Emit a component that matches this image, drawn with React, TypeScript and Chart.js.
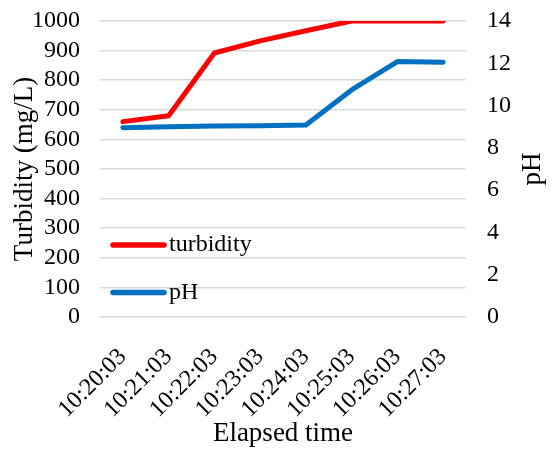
import React, { useEffect, useRef } from "react";
import { Chart, registerables } from "chart.js";

Chart.register(...registerables);

const categories = [
  "10:20:03",
  "10:21:03",
  "10:22:03",
  "10:23:03",
  "10:24:03",
  "10:25:03",
  "10:26:03",
  "10:27:03",
];
const turbidity = [660, 680, 892, 933, 967, 1000, 1000, 1000];
const ph = [8.95, 9.0, 9.03, 9.05, 9.08, 10.74, 12.08, 12.05];
const seriesLabels = ["turbidity", "pH"];
const seriesColors = ["#FF0000", "#0070C0"];
const leftTitle = "Turbidity (mg/L)";
const rightTitle = "pH";
const bottomTitle = "Elapsed time";

const FONT = "'Liberation Serif', 'Times New Roman', Times, serif";

const decorPlugin = {
  id: "decor",
  afterDraw(chart: any) {
    const ctx = chart.ctx as CanvasRenderingContext2D;
    const area = chart.chartArea;
    ctx.save();
    // legend inside plot area
    chart.data.datasets.forEach((ds: any, i: number) => {
      const y = area.bottom - 72 + i * 47.5;
      ctx.beginPath();
      ctx.strokeStyle = ds.borderColor;
      ctx.lineWidth = 5.5;
      ctx.lineCap = "round";
      ctx.moveTo(area.left + 13, y);
      ctx.lineTo(area.left + 64, y);
      ctx.stroke();
      ctx.fillStyle = "#000";
      ctx.font = `24px ${FONT}`;
      ctx.textAlign = "left";
      ctx.textBaseline = "middle";
      ctx.fillText(ds.label, area.left + 69, y);
    });
    // right axis title, rotated bottom-to-top
    const s = chart.scales.y1;
    ctx.translate(s.right - 27, (area.top + area.bottom) / 2);
    ctx.rotate(-Math.PI / 2);
    ctx.fillStyle = "#000";
    ctx.font = `27px ${FONT}`;
    ctx.textAlign = "center";
    ctx.textBaseline = "middle";
    ctx.fillText(rightTitle, 0, 0);
    ctx.restore();
  },
};

export default function App() {
  const canvasRef = useRef<HTMLCanvasElement | null>(null);

  useEffect(() => {
    if (!canvasRef.current) return;
    const tickFont = { family: FONT, size: 24 };
    const titleFont = { family: FONT, size: 27 };
    const chart = new Chart(canvasRef.current, {
      type: "line",
      data: {
        labels: categories,
        datasets: [
          {
            label: seriesLabels[0],
            data: turbidity,
            borderColor: seriesColors[0],
            backgroundColor: seriesColors[0],
            borderWidth: 5,
            pointRadius: 0,
            tension: 0,
            borderCapStyle: "round",
            borderJoinStyle: "round",
            yAxisID: "y",
          },
          {
            label: seriesLabels[1],
            data: ph,
            borderColor: seriesColors[1],
            backgroundColor: seriesColors[1],
            borderWidth: 5,
            pointRadius: 0,
            tension: 0,
            borderCapStyle: "round",
            borderJoinStyle: "round",
            yAxisID: "y1",
          },
        ],
      },
      options: {
        responsive: false,
        animation: false,
        layout: { padding: { top: 21, left: 0, right: 0, bottom: 0 } },
        plugins: {
          legend: { display: false },
          tooltip: { enabled: false },
        },
        scales: {
          x: {
            offset: true,
            grid: { display: false },
            border: { display: false },
            ticks: {
              color: "#000",
              font: tickFont,
              minRotation: 45,
              maxRotation: 45,
              autoSkip: false,
              padding: 18,
            },
            title: {
              display: true,
              text: bottomTitle,
              color: "#000",
              font: titleFont,
              padding: { top: 0, bottom: 0 },
            },
            afterFit: (scale: any) => {
              scale.height = 133;
            },
          },
          y: {
            position: "left",
            min: 0,
            max: 1000,
            grid: { color: "#D9D9D9", lineWidth: 1.5, drawTicks: false },
            border: { display: false },
            ticks: {
              stepSize: 100,
              autoSkip: false,
              color: "#000",
              font: tickFont,
              padding: 20,
              callback: (v: any) => String(v),
            },
            title: {
              display: true,
              text: leftTitle,
              color: "#000",
              font: titleFont,
              padding: { top: 9, bottom: 0 },
            },
            afterFit: (scale: any) => {
              scale.width = 100;
              scale.paddingTop = 0;
              scale.paddingBottom = 0;
            },
          },
          y1: {
            position: "right",
            min: 0,
            max: 14,
            grid: { display: false, drawOnChartArea: false, drawTicks: false },
            border: { display: false },
            ticks: {
              stepSize: 2,
              autoSkip: false,
              color: "#000",
              font: tickFont,
              padding: 21,
              callback: (v: any) => String(v),
            },
            afterFit: (scale: any) => {
              scale.width = 94;
              scale.paddingTop = 0;
              scale.paddingBottom = 0;
            },
          },
        },
      },
      plugins: [decorPlugin],
    });
    return () => chart.destroy();
  }, []);

  return (
    <div style={{ position: "fixed", left: 0, top: 0, width: 560, height: 450, background: "#fff" }}>
      <canvas ref={canvasRef} width={560} height={450} style={{ display: "block" }} />
    </div>
  );
}
